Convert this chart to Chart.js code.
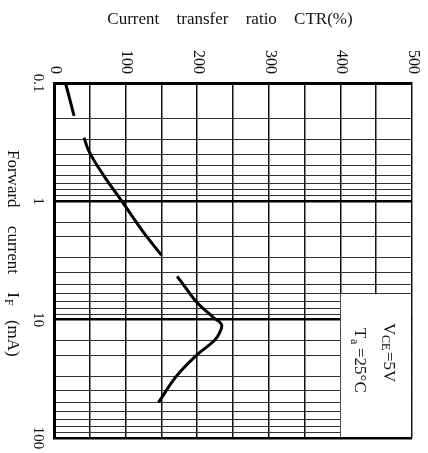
<!DOCTYPE html>
<html lang="en">
<head>
    <meta charset="UTF-8">
    <title>CTR vs forward current</title>
    <script src="https://cdn.jsdelivr.net/npm/chart.js"></script>
    <style>
        html, body { margin: 0; padding: 0; background: #fff; }
        #wrap { width: 428px; height: 453px; }
    </style>
</head>
<body>
<div id="wrap"><canvas id="ctrChart" width="428" height="453"></canvas></div>
<script>
    // forward current IF (mA) and CTR (%); null = gap in the scan
    const ifValues  = [0.1, 0.13, 0.19, null, 0.29, 0.38, 0.6, 1, 1.76, 2.85, null, 4.3, 5.5, 7.2, 9.5, 11, 13, 15, 20, 30, 50];
    const ctrValues = [16, 21, 28, null, 42, 49, 69, 95, 123, 150, null, 172, 185, 200, 222, 234, 231, 224, 199, 171, 146];

    const ctrTicks = [0, 100, 200, 300, 400, 500];
    const ifTicks = [0.1, 1, 10, 100];
    const ifTickLabels = ['0.1', '1', '10', '100'];

    const SERIF = '"Liberation Serif", "DejaVu Serif", serif';

    function rotText(ctx, text, x, y, align) {
        ctx.save();
        ctx.translate(x, y);
        ctx.rotate(Math.PI / 2);
        ctx.textAlign = align || 'center';
        ctx.textBaseline = 'middle';
        ctx.fillText(text, 0, 0);
        ctx.restore();
    }

    const labelsPlugin = {
        id: 'labels',
        beforeDatasetsDraw(chart) {
            const ctx = chart.ctx;
            const x = chart.scales.x, y = chart.scales.y;
            // conditions box
            const bx = x.getPixelForValue(400.5);
            const by = y.getPixelForValue(6.1);
            ctx.save();
            ctx.fillStyle = '#fff';
            ctx.fillRect(bx, by, x.right - bx - 1, y.bottom - by - 1);
            ctx.fillStyle = '#111';
            ctx.font = '17px ' + SERIF;
            // V_CE = 5V
            ctx.save();
            ctx.translate(388, 323);
            ctx.rotate(Math.PI / 2);
            ctx.textBaseline = 'middle';
            ctx.textAlign = 'left';
            ctx.fillText('V', 0, 0);
            ctx.font = '12px ' + SERIF;
            ctx.fillText('CE', 12, 3);
            ctx.font = '17px ' + SERIF;
            ctx.fillText('=5V', 29, 0);
            ctx.restore();
            // T_a = 25°C
            ctx.save();
            ctx.translate(359, 328);
            ctx.rotate(Math.PI / 2);
            ctx.textBaseline = 'middle';
            ctx.textAlign = 'left';
            ctx.fillText('T', 0, 0);
            ctx.font = '12px ' + SERIF;
            ctx.fillText('a', 11, 5);
            ctx.font = '17px ' + SERIF;
            ctx.fillText('=25°C', 20, 0);
            ctx.restore();
            ctx.restore();
        },
        afterDraw(chart) {
            const ctx = chart.ctx;
            const x = chart.scales.x, y = chart.scales.y;
            ctx.save();
            ctx.fillStyle = '#111';
            // title
            ctx.font = '17px ' + SERIF;
            ctx.textAlign = 'center';
            ctx.textBaseline = 'middle';
            ctx.wordSpacing = '13px';
            ctx.fillText('Current transfer ratio CTR(%)', 230, 20);
            ctx.wordSpacing = '0px';
            // top tick labels, rotated
            ctx.font = '16px ' + SERIF;
            ctrTicks.forEach(v => {
                rotText(ctx, String(v), x.getPixelForValue(v) + 1, y.top - 9, 'right');
            });
            // left tick labels, rotated
            ctx.font = '15px ' + SERIF;
            ifTicks.forEach((v, i) => {
                rotText(ctx, ifTickLabels[i], 38, y.getPixelForValue(v), 'center');
            });
            // y axis title
            ctx.save();
            ctx.translate(12, 150);
            ctx.rotate(Math.PI / 2);
            ctx.textBaseline = 'middle';
            ctx.textAlign = 'left';
            ctx.font = '17px ' + SERIF;
            ctx.wordSpacing = '14px';
            const t = 'Forward current I';
            ctx.fillText(t, 0, 0);
            const w = ctx.measureText(t).width;
            ctx.font = '12px ' + SERIF;
            ctx.fillText('F', w + 1, 4);
            ctx.font = '17px ' + SERIF;
            ctx.fillText('(mA)', w + 22, 0);
            ctx.restore();
            ctx.restore();
        }
    };

    const points = ifValues.map((v, i) => (v === null ? { x: null, y: null } : { x: ctrValues[i], y: v }));

    function isDecade(v) {
        const l = Math.log10(v);
        return Math.abs(l - Math.round(l)) < 1e-6;
    }

    new Chart(document.getElementById('ctrChart'), {
        type: 'scatter',
        data: {
            datasets: [{
                data: points,
                showLine: true,
                spanGaps: false,
                borderColor: '#000',
                borderWidth: 3,
                pointRadius: 0,
                tension: 0.4
            }]
        },
        options: {
            responsive: false,
            animation: false,
            layout: { padding: { left: 54, top: 83, right: 16, bottom: 15 } },
            plugins: { legend: { display: false }, tooltip: { enabled: false } },
            scales: {
                x: {
                    type: 'linear',
                    position: 'top',
                    min: 0,
                    max: 500,
                    ticks: { display: false, stepSize: 50 },
                    grid: { color: '#111', lineWidth: 1.5, drawTicks: false },
                    border: { display: true, color: '#000', width: 3 }
                },
                y: {
                    type: 'logarithmic',
                    reverse: true,
                    min: 0.1,
                    max: 100,
                    ticks: { display: false },
                    grid: {
                        color: ctx => (ctx.tick && isDecade(ctx.tick.value) ? '#000' : '#333'),
                        lineWidth: ctx => (ctx.tick && isDecade(ctx.tick.value) ? 2.5 : 1),
                        drawTicks: false
                    },
                    border: { display: true, color: '#000', width: 3 }
                }
            }
        },
        plugins: [labelsPlugin]
    });
</script>
</body>
</html>
